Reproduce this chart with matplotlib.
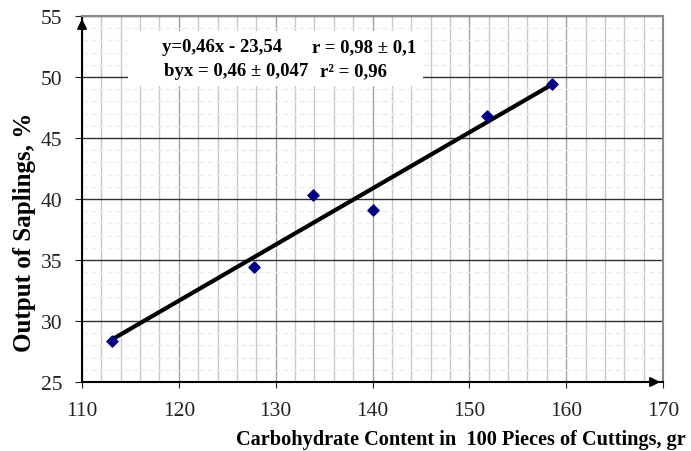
import numpy as np
import matplotlib.pyplot as plt
from matplotlib.ticker import MultipleLocator
from matplotlib.patches import Rectangle

# carbohydrate content vs output of saplings
carbs = [113.1, 127.8, 133.9, 140.1, 151.8, 158.5]
output = [28.4, 34.4, 40.3, 39.1, 46.8, 49.4]

# regression line from the chart annotation
slope = 0.46
intercept = -23.54

x_ticks = [110, 120, 130, 140, 150, 160, 170]
y_ticks = [25, 30, 35, 40, 45, 50, 55]

plt.rcParams['font.family'] = ['Liberation Serif', 'DejaVu Serif']

W, H = 691, 452
fig = plt.figure(figsize=(W / 100, H / 100), dpi=100)
ax = fig.add_axes([82 / W, 1 - 383 / H, 581 / W, 366 / H])

ax.set_xlim(110, 170)
ax.set_ylim(25, 55)
ax.set_xticks(x_ticks)
ax.set_yticks(y_ticks)
ax.xaxis.set_minor_locator(MultipleLocator(2))
ax.yaxis.set_minor_locator(MultipleLocator(1))

ax.grid(True, which='major', axis='x', color='#a0a0a0', lw=1.0)
ax.grid(True, which='minor', axis='x', color='#c8c8c8', lw=1.0)
ax.grid(True, which='major', axis='y', color='#303030', lw=1.0)
ax.grid(True, which='minor', axis='y', color='#ececec', lw=1.0, ls=(0, (4, 2)))
ax.set_axisbelow(True)

ax.tick_params(axis='both', which='minor', length=0)
ax.tick_params(axis='x', which='major', length=4, labelsize=15.5, pad=10,
               colors='#222222')
ax.tick_params(axis='y', which='major', length=5, labelsize=15.5, pad=9,
               colors='#222222')

for side in ['top', 'right']:
    ax.spines[side].set_color('#8a8a8a')
    ax.spines[side].set_linewidth(1.5)
for side in ['left', 'bottom']:
    ax.spines[side].set_color('black')
    ax.spines[side].set_linewidth(1.5)

# axis arrows
ax.annotate('', xy=(1.0, 0), xytext=(0.97, 0), xycoords='axes fraction',
            arrowprops=dict(arrowstyle='-|>', color='black', lw=1.5, mutation_scale=14))
ax.annotate('', xy=(0, 1.0), xytext=(0, 0.96), xycoords='axes fraction',
            arrowprops=dict(arrowstyle='-|>', color='black', lw=1.5, mutation_scale=14))

line_x = np.array([min(carbs), max(carbs)])
ax.plot(line_x, slope * line_x + intercept, color='black', lw=3, zorder=3)
ax.scatter(carbs, output, marker='D', s=32, color='#000080', zorder=4)

# equation box (white patch hiding the grid)
fig.patches.append(Rectangle((128 / W, 1 - 87 / H), 295 / W, 55 / H,
                             transform=fig.transFigure, facecolor='white',
                             edgecolor='none', zorder=5))
eq = dict(fontsize=13.5, fontweight='bold', va='center', zorder=6)
fig.text(162 / W, 1 - 48 / H, 'y=0,46x - 23,54', **eq)
fig.text(312 / W, 1 - 48 / H, 'r = 0,98 \u00b1 0,1', **eq)
fig.text(164 / W, 1 - 72 / H, 'byx = 0,46 \u00b1 0,047', **eq)
fig.text(320 / W, 1 - 72 / H, 'r\u00b2 = 0,96', **eq)

fig.text(25 / W, 1 - 232 / H, 'Output of Saplings, %', fontsize=18, fontweight='bold',
         rotation=90, ha='center', va='center')
fig.text(236 / W, 1 - 440 / H, 'Carbohydrate Content in  100 Pieces of Cuttings, gr',
         fontsize=14.6, fontweight='bold', va='center')

plt.savefig('out.png', dpi=100)
